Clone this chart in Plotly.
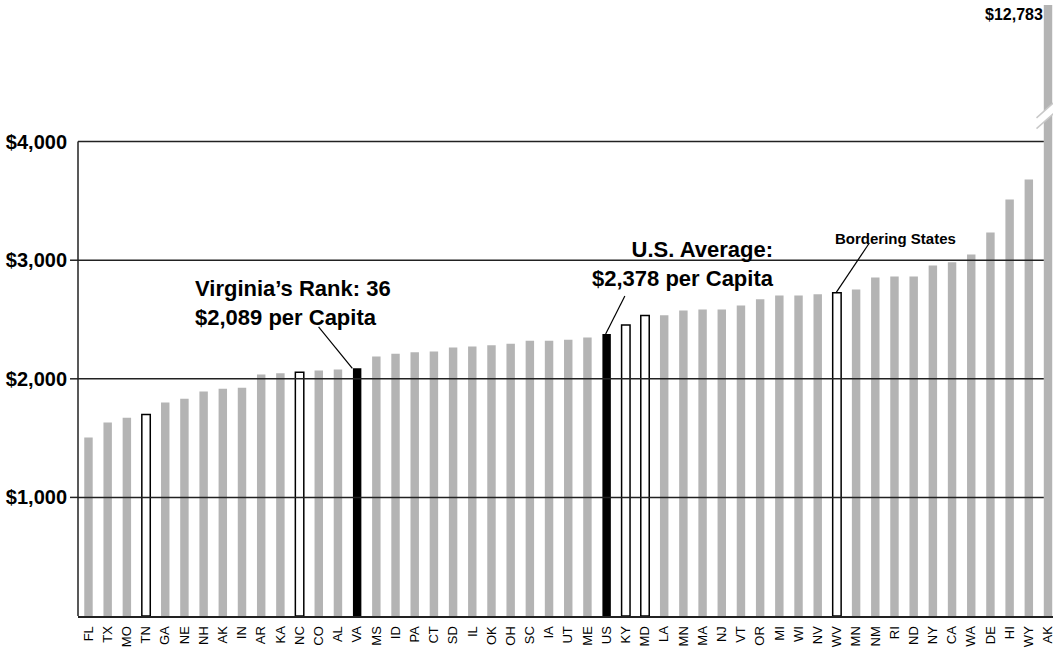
import plotly.graph_objects as go

# Per-capita amounts by state, sorted low to high (US = national average)
states = ["FL", "TX", "MO", "TN", "GA", "NE", "NH", "AK", "IN", "AR", "KA", "NC",
          "CO", "AL", "VA", "MS", "ID", "PA", "CT", "SD", "IL", "OK", "OH", "SC",
          "IA", "UT", "ME", "US", "KY", "MD", "LA", "MN", "MA", "NJ", "VT", "OR",
          "MI", "WI", "NV", "WV", "MN", "NM", "RI", "ND", "NY", "CA", "WA", "DE",
          "HI", "WY", "AK"]
per_capita = [1506, 1632, 1672, 1700, 1801, 1832, 1894, 1917, 1925, 2037, 2046, 2055,
              2071, 2079, 2089, 2189, 2212, 2223, 2231, 2265, 2273, 2282, 2296, 2321,
              2321, 2330, 2349, 2378, 2453, 2534, 2536, 2577, 2585, 2585, 2619, 2670,
              2703, 2703, 2712, 2725, 2754, 2855, 2863, 2863, 2956, 2982, 3049, 3234,
              3513, 3681, 12783]
bordering = ["TN", "NC", "KY", "MD", "WV"]
highlighted = ["VA", "US"]
y_ticks = [1000, 2000, 3000, 4000]
y_tick_text = ["$1,000", "$2,000", "$3,000", "$4,000"]

FONT = "Liberation Sans, Arial, sans-serif"
GREY = "#b4b4b4"
BAR_W = 0.44

xs = list(range(len(states)))
fills, edge_colors, edge_widths = [], [], []
for s in states:
    if s in highlighted:
        fills.append("black"); edge_colors.append("black"); edge_widths.append(0)
    elif s in bordering:
        fills.append("white"); edge_colors.append("black"); edge_widths.append(1.5)
    else:
        fills.append(GREY); edge_colors.append(GREY); edge_widths.append(0)

fig = go.Figure(go.Bar(
    x=xs, y=per_capita, width=BAR_W,
    marker=dict(color=fills, line=dict(color=edge_colors, width=edge_widths)),
    hoverinfo="skip",
))

x_lo, x_hi = -0.546, 50.26
y_top = 5152
last = len(states) - 1

shapes = []
# horizontal rules drawn over the bars, stopping at the tall final bar
for v in y_ticks:
    shapes.append(dict(type="line", xref="x", yref="y", x0=x_lo, x1=last - BAR_W / 2,
                       y0=v, y1=v, line=dict(color="#222", width=1.5), layer="above"))
# left axis line up to the top rule, plus tick marks
shapes.append(dict(type="line", xref="paper", yref="y", x0=0, x1=0, y0=0, y1=4000,
                   line=dict(color="#222", width=1.5), layer="above"))
for v in y_ticks[:-1]:
    shapes.append(dict(type="line", xref="paper", yref="y", x0=-8 / 977, x1=0,
                       y0=v, y1=v, line=dict(color="#222", width=1.5), layer="above"))

# axis-break marks on the off-scale bar
b_x0, b_x1 = last - 0.6, last + 0.31
shapes.append(dict(type="path", xref="x", yref="y",
                   path=f"M {b_x0},4110 L {b_x1},4240 L {b_x1},4330 L {b_x0},4200 Z",
                   fillcolor="white", line=dict(width=0), layer="above"))
for lo, hi in [(4110, 4240), (4200, 4330)]:
    shapes.append(dict(type="line", xref="x", yref="y", x0=b_x0, x1=b_x1, y0=lo, y1=hi,
                       line=dict(color="#c8c8c8", width=1.5), layer="above"))

# leader lines from the callouts to their bars
va = states.index("VA")
us = states.index("US")
wv = states.index("WV")
leaders = [
    (11.99, 2437, va - 0.25, per_capita[va]),
    (27.95, 2699, us - 0.05, per_capita[us]),
    (40.69, 3145, wv - 0.05, per_capita[wv]),
]
for x0, y0, x1, y1 in leaders:
    shapes.append(dict(type="line", xref="x", yref="y", x0=x0, y0=y0, x1=x1, y1=y1,
                       line=dict(color="black", width=1.2), layer="above"))

annotations = [
    dict(x=5.43, y=2639, xref="x", yref="y", xanchor="left", yanchor="middle", align="left",
         text="Virginia’s Rank: 36<br>$2,089 per Capita", showarrow=False,
         font=dict(family=FONT, size=22, color="black", weight="bold")),
    dict(x=35.85, y=2972, xref="x", yref="y", xanchor="right", yanchor="middle", align="right",
         text="U.S. Average:<br>$2,378 per Capita", showarrow=False,
         font=dict(family=FONT, size=22, color="black", weight="bold")),
    dict(x=38.82, y=3187, xref="x", yref="y", xanchor="left", yanchor="middle",
         text="Bordering States", showarrow=False,
         font=dict(family=FONT, size=15, color="black", weight="bold")),
    dict(x=last - 0.15, y=5068, xref="x", yref="y", xanchor="right", yanchor="middle",
         text=f"${per_capita[last]:,}", showarrow=False,
         font=dict(family=FONT, size=16, color="black", weight="bold")),
]

fig.update_layout(
    width=1055, height=649,
    margin=dict(l=78, r=0, t=5, b=33),
    paper_bgcolor="white", plot_bgcolor="white",
    showlegend=False,
    shapes=shapes,
    annotations=annotations,
    xaxis=dict(range=[x_lo, x_hi], tickmode="array", tickvals=xs, ticktext=states,
               tickangle=-90, tickfont=dict(family=FONT, size=13, color="black"),
               showline=True, linecolor="#222", linewidth=2, ticks="",
               showgrid=False, zeroline=False, ticklabelstandoff=3,
               ticklabeloverflow="allow"),
    yaxis=dict(range=[0, y_top], tickmode="array", tickvals=y_ticks, ticktext=y_tick_text,
               tickfont=dict(family=FONT, size=20, color="black", weight="bold"),
               ticks="", ticklabelstandoff=10, showline=False, showgrid=False,
               zeroline=False),
)

fig.write_html("out.html")
